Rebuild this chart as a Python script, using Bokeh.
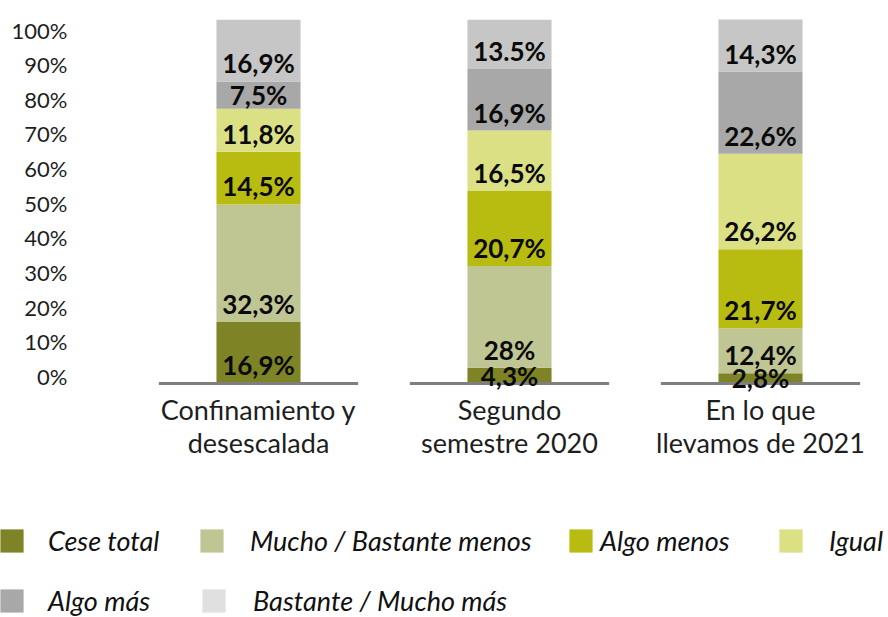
from bokeh.plotting import figure
from bokeh.layouts import column, row
from bokeh.models import (Range1d, LinearAxis, FixedTicker, ColumnDataSource,
                          Legend, LegendItem)
from bokeh.core.properties import value
from bokeh.embed import file_html
from bokeh.resources import INLINE

# ---------------- data ----------------
categories = ["Confinamiento y\ndesescalada", "Segundo\nsemestre 2020", "En lo que\nllevamos de 2021"]
series_names = ["Cese total", "Mucho / Bastante menos", "Algo menos", "Igual",
                "Algo más", "Bastante / Mucho más"]

cese_total = [16.9, 4.3, 2.8]
mucho_bastante_menos = [32.3, 28.0, 12.4]
algo_menos = [14.5, 20.7, 21.7]
igual = [11.8, 16.5, 26.2]
algo_mas = [7.5, 16.9, 22.6]
bastante_mucho_mas = [16.9, 13.5, 14.3]

cese_total_lbl = ["16,9%", "4,3%", "2,8%"]
mucho_bastante_menos_lbl = ["32,3%", "28%", "12,4%"]
algo_menos_lbl = ["14,5%", "20,7%", "21,7%"]
igual_lbl = ["11,8%", "16,5%", "26,2%"]
algo_mas_lbl = ["7,5%", "16,9%", "22,6%"]
bastante_mucho_mas_lbl = ["16,9%", "13.5%", "14,3%"]

y_ticks = [0, 10, 20, 30, 40, 50, 60, 70, 80, 90, 100]
y_tick_labels = ["0%", "10%", "20%", "30%", "40%", "50%", "60%", "70%", "80%", "90%", "100%"]

bar_colors = ["#7E8426", "#C0C594", "#B8BC10", "#DCE084", "#A8A8A8", "#C6C6C6"]
legend_colors = ["#7E8426", "#C0C594", "#B8BC10", "#DCE084", "#A8A8A8", "#E0E0E0"]

# ---------------- build ----------------
series = [cese_total, mucho_bastante_menos, algo_menos, igual, algo_mas, bastante_mucho_mas]
series_lbls = [cese_total_lbl, mucho_bastante_menos_lbl, algo_menos_lbl, igual_lbl,
               algo_mas_lbl, bastante_mucho_mas_lbl]
keys = ["s%d" % i for i in range(len(series))]
x_idx = list(range(len(categories)))

data = {"x": x_idx}
for k, s in zip(keys, series):
    data[k] = s
source = ColumnDataSource(data)

W = 888
H_MAIN = 470
H_LEG = 617 - H_MAIN
LEFT = 70

p = figure(width=W, height=H_MAIN, output_backend="svg", toolbar_location=None,
           x_range=Range1d(-0.749, 2.510), y_range=Range1d(-2.473, 101.648),
           y_axis_location=None, min_border_left=LEFT, min_border_right=0,
           min_border_top=13, min_border_bottom=H_MAIN - 392)
p.extra_y_ranges = {"ticks": Range1d(-4.618, 104.762)}
p.outline_line_color = None
p.xgrid.visible = False
p.ygrid.visible = False
p.background_fill_color = "white"
p.border_fill_color = "white"

bars = p.vbar_stack(keys, x="x", width=0.335, source=source,
                    fill_color=bar_colors, line_color=None)

# baseline segments under each category
p.segment(x0=[i - 0.397 for i in x_idx], y0=[0] * len(x_idx),
          x1=[i + 0.397 for i in x_idx], y1=[0] * len(x_idx),
          line_color="#7F7F7F", line_width=3)

# value labels near the base of each segment
lx, ly, lt = [], [], []
bottoms = [0.0] * len(x_idx)
for s, lbls in zip(series, series_lbls):
    for i, v in enumerate(s):
        lx.append(i)
        ly.append(bottoms[i] + min(4.95, v / 2.0))
        lt.append(lbls[i])
        bottoms[i] += v
p.text(x=lx, y=ly, text=lt, text_align="center", text_baseline="middle",
       text_font=value("Lato"), text_font_style="bold", text_font_size="26px",
       text_color="#0A0A0A")

# x axis
xa = p.xaxis[0]
xa.ticker = FixedTicker(ticks=x_idx)
xa.major_label_overrides = {i: c for i, c in zip(x_idx, categories)}
xa.axis_line_color = None
xa.major_tick_line_color = None
xa.minor_tick_line_color = None
xa.major_tick_out = 0
xa.major_tick_in = 0
xa.major_label_standoff = 0
xa.major_label_text_font = "Lato"
xa.major_label_text_font_size = "27px"
xa.major_label_text_line_height = 1.0
xa.major_label_text_color = "#1E1E1E"

# y axis (percentage ticks)
ya = LinearAxis(y_range_name="ticks", ticker=FixedTicker(ticks=y_ticks),
                major_label_overrides={t: l for t, l in zip(y_ticks, y_tick_labels)})
ya.axis_line_color = None
ya.major_tick_line_color = None
ya.minor_tick_line_color = None
ya.major_tick_out = 0
ya.major_tick_in = 0
ya.major_label_standoff = 3
ya.major_label_text_font = "Lato"
ya.major_label_text_font_size = "22px"
ya.major_label_text_color = "#1E1E1E"
p.add_layout(ya, "left")

# ---------------- legend (own panel below the chart) ----------------
lg = figure(width=W, height=H_LEG, output_backend="svg", toolbar_location=None,
            x_range=Range1d(0, 1), y_range=Range1d(0, 1),
            x_axis_location=None, y_axis_location=None,
            min_border_left=0, min_border_right=0,
            min_border_top=0, min_border_bottom=0)
lg.outline_line_color = None
lg.xgrid.visible = False
lg.ygrid.visible = False

leg_x = [-3, 197, 566, 776, -3, 199]
leg_vy = [60, 60, 60, 60, 0, 0]
leg_standoff = [22, 24, 5, 24, 22, 25]
for name, col, x0, vy, so in zip(series_names, legend_colors, leg_x, leg_vy, leg_standoff):
    # legend-only swatch renderer (zero-height bar, draws nothing itself)
    r = lg.vbar(x=[0.5], top=[0], width=0.1, fill_color=col, line_color=None)
    leg = Legend(items=[LegendItem(label=name, renderers=[r])], location=(x0, vy),
                 orientation="horizontal",
                 glyph_width=29, glyph_height=29, label_standoff=so,
                 padding=0, margin=0, border_line_color=None, background_fill_alpha=0,
                 label_text_font="Lato", label_text_font_style="italic",
                 label_text_font_size="27px", label_text_color="#111111",
                 label_height=23)
    lg.add_layout(leg, "center")

layout = column(p, row(lg), spacing=0)
open("out.html", "w").write(file_html(layout, INLINE))
